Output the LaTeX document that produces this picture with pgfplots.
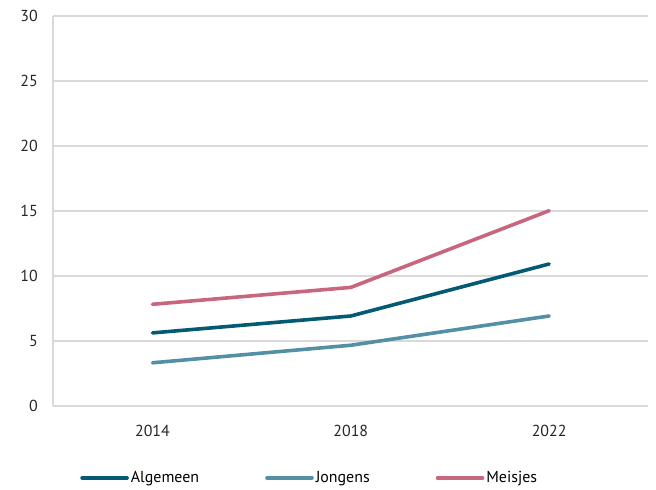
\documentclass[border=0pt]{standalone}
\usepackage{pgfplots}
\pgfplotsset{compat=1.18}
\usepackage{fontspec}
\setmainfont{PT Sans}
\definecolor{alg}{RGB}{4,90,115}
\definecolor{jon}{RGB}{84,144,164}
\definecolor{mei}{RGB}{200,102,126}
\definecolor{gridc}{RGB}{217,217,217}
\begin{document}
\begin{tikzpicture}[x=1bp,y=1bp]
\useasboundingbox (0,0) rectangle (656,490);
\begin{axis}[
  at={(53.3bp,84.3bp)}, anchor=south west,
  scale only axis, width=595bp, height=390bp,
  xmin=-0.5, xmax=2.5, ymin=0, ymax=30,
  xtick={0,1,2}, xticklabels={2014,2018,2022},
  ytick={0,5,...,30},
  ymajorgrids, grid style={gridc, line width=2bp},
  axis x line*=bottom,
  x axis line style={draw=none},
  axis y line*=left,
  y axis line style={gridc, line width=2bp, -},
  major tick length=0pt,
  tick style={draw=none},
  every tick label/.append style={font=\fontsize{16}{19}\selectfont, text=black!85},
  /pgf/number format/assume math mode=true,
  yticklabel style={xshift=-12bp},
  xticklabel style={yshift=-16bp},
  legend style={at={(0.04,-0.185)}, anchor=west, draw=none, fill=none,
    legend columns=3, font=\fontsize{16}{19}\selectfont,
    /tikz/every even column/.append style={column sep=64bp}},
  legend image code/.code={\draw[#1, line cap=round] (0bp,0bp) -- (45bp,0bp);},
  legend cell align=left,
]
\addplot[alg, line width=3.6bp, line cap=round, line join=round] coordinates {(0,5.6) (1,6.9) (2,10.9)};
\addlegendentry{Algemeen}
\addplot[jon, line width=3.6bp, line cap=round, line join=round] coordinates {(0,3.3) (1,4.65) (2,6.9)};
\addlegendentry{Jongens}
\addplot[mei, line width=3.6bp, line cap=round, line join=round] coordinates {(0,7.8) (1,9.1) (2,15.0)};
\addlegendentry{Meisjes}
\end{axis}
\end{tikzpicture}
\end{document}
